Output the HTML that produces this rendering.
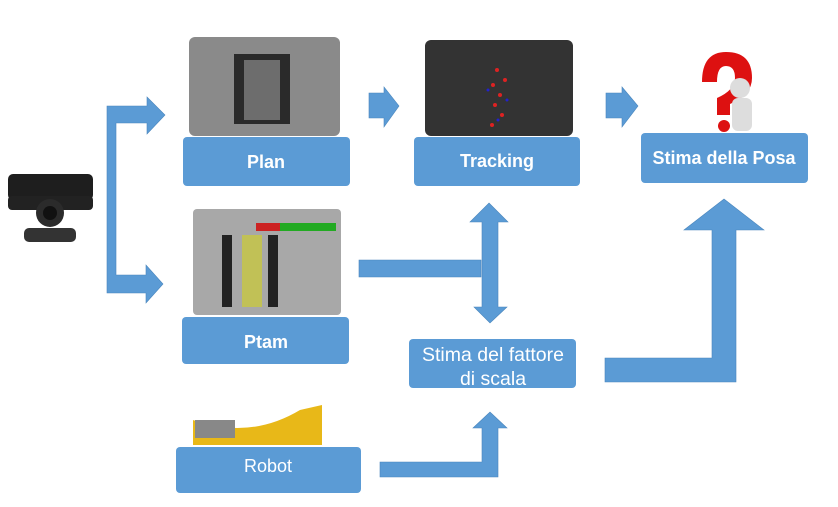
<!DOCTYPE html>
<html><head><meta charset="utf-8"><style>
html,body{margin:0;padding:0;background:#fff;}
svg{display:block;}
text{font-family:"Liberation Sans","DejaVu Sans",sans-serif;fill:#fff;font-size:18px;}
</style></head><body>
<svg width="838" height="507" viewBox="0 0 838 507" xmlns="http://www.w3.org/2000/svg">
<g fill="#5B9BD5" stroke="#4A86BD" stroke-width="0.6">
<path d="M107,106 H147 V97 L165,115 L147,134 V123 H116 V275 H146 V265 L163,284 L146,303 V293 H107 Z"/>
<path d="M369,93 H384 V87 L399,106 L384,127 V118 H369 Z"/>
<path d="M606,93 H622 V87 L638,106 L622,127 V118 H606 Z"/>
<path d="M359,260 H481 V277 H359 Z"/>
<path d="M489,203 L508,222 H498 V307 H507 L490,323 L474,307 H482 V222 H470 Z"/>
<path d="M605,358 H712 V230 H684 L724,199 L764,230 H736 V382 H605 Z"/>
<path d="M380,462 H482 V428 H473 L490,412 L507,428 H498 V477 H380 Z"/>
</g>
<rect x="189" y="37" width="151" height="99" rx="6" fill="#8a8a8a"/>
<rect x="234" y="54" width="56" height="70" fill="#2a2a2a"/>
<rect x="244" y="60" width="36" height="60" fill="#6d6d6d"/>
<rect x="425" y="40" width="148" height="96" rx="6" fill="#333"/>
<g fill="#d22">
<circle cx="497" cy="70" r="2"/><circle cx="493" cy="85" r="2"/><circle cx="500" cy="95" r="2"/><circle cx="495" cy="105" r="2"/><circle cx="502" cy="115" r="2"/><circle cx="492" cy="125" r="2"/><circle cx="505" cy="80" r="2"/></g>
<g fill="#22c"><circle cx="488" cy="90" r="1.5"/><circle cx="507" cy="100" r="1.5"/><circle cx="498" cy="120" r="1.5"/></g>
<rect x="193" y="209" width="148" height="106" rx="4" fill="#a8a8a8"/>
<rect x="256" y="223" width="80" height="8" fill="#2a2"/><rect x="256" y="223" width="24" height="8" fill="#c22"/>
<rect x="222" y="235" width="10" height="72" fill="#222"/><rect x="268" y="235" width="10" height="72" fill="#222"/>
<rect x="242" y="235" width="20" height="72" fill="#cc3" opacity="0.7"/>
<path d="M193,420 Q250,440 300,410 L322,405 L322,445 L193,445 Z" fill="#e8b818"/>
<rect x="195" y="420" width="40" height="18" fill="#888"/>
<rect x="8" y="174" width="85" height="26" rx="5" fill="#1e1e1e"/>
<rect x="8" y="196" width="85" height="14" rx="4" fill="#222"/>
<circle cx="50" cy="213" r="14" fill="#2b2b2b"/><circle cx="50" cy="213" r="7" fill="#111"/>
<rect x="24" y="228" width="52" height="14" rx="5" fill="#333"/>
<path d="M702,82 Q702,52 726,52 Q752,52 752,78 Q752,95 730,104 L730,115 L717,115 L717,98 Q735,90 735,78 Q735,66 726,66 Q717,66 717,82 Z" fill="#d11"/>
<circle cx="724" cy="126" r="6" fill="#d11"/>
<circle cx="740" cy="88" r="10" fill="#ddd"/><rect x="732" y="98" width="20" height="33" rx="6" fill="#ddd"/>
<g fill="#5B9BD5">
<rect x="183" y="137" width="167" height="49" rx="4"/>
<rect x="414" y="137" width="166" height="49" rx="4"/>
<rect x="641" y="133" width="167" height="50" rx="4"/>
<rect x="182" y="317" width="167" height="47" rx="4"/>
<rect x="409" y="339" width="167" height="49" rx="4"/>
<rect x="176" y="447" width="185" height="46" rx="4"/>
</g>
<text x="266" y="168" text-anchor="middle" font-weight="bold">Plan</text>
<text x="497" y="167" text-anchor="middle" font-weight="bold">Tracking</text>
<text x="724" y="164" text-anchor="middle" font-weight="bold">Stima della Posa</text>
<text x="266" y="348" text-anchor="middle" font-weight="bold">Ptam</text>
<text x="493" y="361" text-anchor="middle" style="font-size:19.5px">Stima del fattore</text>
<text x="493" y="385" text-anchor="middle" style="font-size:19.5px">di scala</text>
<text x="268" y="472" text-anchor="middle">Robot</text>
</svg>
</body></html>
